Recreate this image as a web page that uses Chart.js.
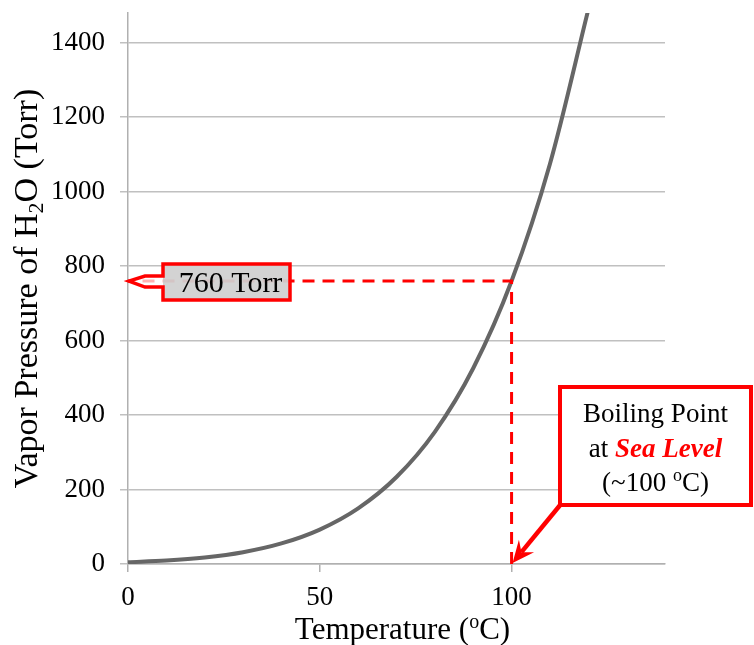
<!DOCTYPE html>
<html>
<head>
<meta charset="utf-8">
<script src="https://cdn.jsdelivr.net/npm/chart.js@4/dist/chart.umd.min.js"></script>
<style>
  html, body { margin: 0; padding: 0; background: #ffffff; }
  #wrap { width: 754px; height: 645px; position: relative; }
</style>
</head>
<body>
<div id="wrap"><canvas id="c" width="754" height="645"></canvas></div>
<script>
// ---- data ----
const temperatures = [0, 10, 20, 30, 40, 50, 60, 70, 80, 90, 100, 110, 120];
const vaporPressure = [4.6, 9.2, 17.5, 31.8, 55.3, 92.5, 149.4, 233.7, 355.1, 525.8, 760, 1074.6, 1489];
const xTickValues = [0, 50, 100];
const yTickValues = [0, 200, 400, 600, 800, 1000, 1200, 1400];
const boilingTemp = 100;
const seaLevelPressure = 760;
const xTitleParts = ['Temperature (', 'o', 'C)'];
const yTitleParts = ['Vapor Pressure of H', '2', 'O (Torr)'];
const calloutLabel = '760 Torr';
const boilLines = ['Boiling Point', 'at ', 'Sea Level', '(~100 ', 'o', 'C)'];

const SERIF = '"Liberation Serif", "Times New Roman", Times, serif';
const RED = '#ff0000';

const annotationPlugin = {
  id: 'annot',
  afterDatasetsDraw(chart) {
    const ctx = chart.ctx;
    const xs = chart.scales.x, ys = chart.scales.y;
    const ca = chart.chartArea;
    const px = xs.getPixelForValue(boilingTemp);
    const py = ys.getPixelForValue(seaLevelPressure);
    const y0 = ys.getPixelForValue(0);
    ctx.save();
    // dashed guide lines
    ctx.strokeStyle = RED;
    ctx.lineWidth = 3;
    ctx.setLineDash([12, 8]);
    ctx.beginPath();
    ctx.moveTo(px, y0);
    ctx.lineTo(px, py);
    ctx.lineTo(ca.left, py);
    ctx.stroke();
    ctx.setLineDash([]);

    // "760 Torr" callout box with left pointer
    const bx0 = ca.left + 35, bx1 = ca.left + 162, by0 = py - 17, by1 = py + 19;
    ctx.beginPath();
    ctx.moveTo(bx0, by0);
    ctx.lineTo(bx1, by0);
    ctx.lineTo(bx1, by1);
    ctx.lineTo(bx0, by1);
    ctx.lineTo(bx0, py + 6);
    ctx.lineTo(bx0 - 18, py + 6);
    ctx.lineTo(ca.left + 1, py);
    ctx.lineTo(bx0 - 18, py - 5);
    ctx.lineTo(bx0, py - 5);
    ctx.closePath();
    ctx.fillStyle = 'rgba(255,255,255,0.7)';
    ctx.fill();
    ctx.fillStyle = 'rgba(200,200,200,0.8)';
    ctx.fillRect(bx0, by0, bx1 - bx0, by1 - by0);
    ctx.strokeStyle = RED;
    ctx.lineWidth = 3.5;
    ctx.lineJoin = 'miter';
    ctx.stroke();
    ctx.fillStyle = '#000';
    ctx.font = '30px ' + SERIF;
    ctx.textAlign = 'center';
    ctx.textBaseline = 'middle';
    ctx.fillText(calloutLabel, (bx0 + bx1) / 2 + 4, py + 3);

    // Boiling point box
    const qx0 = 560, qx1 = 751, qy0 = 387, qy1 = 505;
    ctx.fillStyle = '#fff';
    ctx.fillRect(qx0, qy0, qx1 - qx0, qy1 - qy0);
    ctx.strokeStyle = RED;
    ctx.lineWidth = 4;
    ctx.strokeRect(qx0, qy0, qx1 - qx0, qy1 - qy0);
    const cx = (qx0 + qx1) / 2;
    ctx.fillStyle = '#000';
    ctx.font = '27px ' + SERIF;
    ctx.textAlign = 'center';
    ctx.textBaseline = 'alphabetic';
    ctx.fillText(boilLines[0], cx, 422);
    // line 2: "at " + bold italic red "Sea Level"
    const f1 = '27px ' + SERIF, f2 = 'italic bold 27px ' + SERIF;
    ctx.font = f1; const w1 = ctx.measureText(boilLines[1]).width;
    ctx.font = f2; const w2 = ctx.measureText(boilLines[2]).width;
    let sx = cx - (w1 + w2) / 2;
    ctx.textAlign = 'left';
    ctx.font = f1; ctx.fillStyle = '#000'; ctx.fillText(boilLines[1], sx, 457);
    ctx.font = f2; ctx.fillStyle = RED; ctx.fillText(boilLines[2], sx + w1, 457);
    // line 3: "(~100 oC)" with superscript o
    const f3 = '27px ' + SERIF, f3s = '18px ' + SERIF;
    ctx.font = f3; const a = ctx.measureText(boilLines[3]).width;
    ctx.font = f3s; const b = ctx.measureText(boilLines[4]).width;
    ctx.font = f3; const c = ctx.measureText(boilLines[5]).width;
    sx = cx - (a + b + c) / 2;
    ctx.fillStyle = '#000';
    ctx.font = f3; ctx.fillText(boilLines[3], sx, 491);
    ctx.font = f3s; ctx.fillText(boilLines[4], sx + a, 481);
    ctx.font = f3; ctx.fillText(boilLines[5], sx + a + b, 491);

    // arrow from box corner to boiling point
    const ax0 = qx0 + 1, ay0 = qy1 - 1, ax1 = px + 1, ay1 = y0 - 1;
    const ang = Math.atan2(ay1 - ay0, ax1 - ax0);
    ctx.strokeStyle = RED;
    ctx.fillStyle = RED;
    ctx.lineWidth = 4.5;
    ctx.beginPath();
    ctx.moveTo(ax0, ay0);
    ctx.lineTo(ax1 - 14 * Math.cos(ang), ay1 - 14 * Math.sin(ang));
    ctx.stroke();
    const hl = 24, hw = 0.42;
    ctx.beginPath();
    ctx.moveTo(ax1, ay1);
    ctx.lineTo(ax1 - hl * Math.cos(ang - hw), ay1 - hl * Math.sin(ang - hw));
    ctx.lineTo(ax1 - 14 * Math.cos(ang), ay1 - 14 * Math.sin(ang));
    ctx.lineTo(ax1 - hl * Math.cos(ang + hw), ay1 - hl * Math.sin(ang + hw));
    ctx.closePath();
    ctx.fill();
    ctx.restore();
  },
  afterDraw(chart) {
    const ctx = chart.ctx;
    const ca = chart.chartArea;
    ctx.save();
    ctx.fillStyle = '#000';
    ctx.textBaseline = 'alphabetic';
    ctx.textAlign = 'left';
    // x title
    let big = '31px ' + SERIF, small = '20px ' + SERIF;
    ctx.font = big; const a = ctx.measureText(xTitleParts[0]).width;
    ctx.font = small; const b = ctx.measureText(xTitleParts[1]).width;
    ctx.font = big; const c = ctx.measureText(xTitleParts[2]).width;
    let sx = (ca.left + ca.right) / 2 + 6 - (a + b + c) / 2;
    const by = 639;
    ctx.font = big; ctx.fillText(xTitleParts[0], sx, by);
    ctx.font = small; ctx.fillText(xTitleParts[1], sx + a, by - 11);
    ctx.font = big; ctx.fillText(xTitleParts[2], sx + a + b, by);
    // y title (rotated)
    big = '34px ' + SERIF; small = '22px ' + SERIF;
    ctx.translate(37, (ca.top + ca.bottom) / 2);
    ctx.rotate(-Math.PI / 2);
    ctx.font = big; const d = ctx.measureText(yTitleParts[0]).width;
    ctx.font = small; const e = ctx.measureText(yTitleParts[1]).width;
    ctx.font = big; const f = ctx.measureText(yTitleParts[2]).width;
    sx = -(d + e + f) / 2;
    ctx.font = big; ctx.fillText(yTitleParts[0], sx, 0);
    ctx.font = small; ctx.fillText(yTitleParts[1], sx + d, 6);
    ctx.font = big; ctx.fillText(yTitleParts[2], sx + d + e, 0);
    ctx.restore();
  }
};

new Chart(document.getElementById('c'), {
  type: 'line',
  data: {
    labels: temperatures,
    datasets: [{
      data: temperatures.map((t, i) => ({ x: t, y: vaporPressure[i] })),
      borderColor: '#666666',
      borderWidth: 4,
      pointRadius: 0,
      cubicInterpolationMode: 'monotone',
      fill: false
    }]
  },
  options: {
    responsive: false,
    animation: false,
    devicePixelRatio: 1,
    layout: { padding: { top: 13, right: 89, left: 0, bottom: 0 } },
    plugins: { legend: { display: false }, tooltip: { enabled: false } },
    scales: {
      x: {
        type: 'linear',
        min: 0, max: 140,
        afterBuildTicks(s) { s.ticks = xTickValues.map(v => ({ value: v })); },
        afterFit(s) { s.height = 81; s.paddingLeft = 0; s.paddingRight = 0; },
        border: { color: '#b0b0b0', width: 1.5 },
        grid: { drawOnChartArea: false, color: '#b0b0b0', tickLength: 8, lineWidth: 1.5 },
        ticks: { color: '#000', font: { family: SERIF, size: 27 }, padding: 10, maxRotation: 0, callback: v => String(v) }
      },
      y: {
        type: 'linear',
        min: 0, max: 1480,
        afterBuildTicks(s) { s.ticks = yTickValues.map(v => ({ value: v })); },
        afterFit(s) { s.width = 128; s.paddingTop = 0; s.paddingBottom = 0; },
        border: { color: '#b0b0b0', width: 1.5 },
        grid: { color: '#c0c0c0', tickLength: 8, lineWidth: 1.5 },
        ticks: { color: '#000', font: { family: SERIF, size: 27 }, padding: 15, callback: v => String(v) }
      }
    }
  },
  plugins: [annotationPlugin]
});
</script>
</body>
</html>
